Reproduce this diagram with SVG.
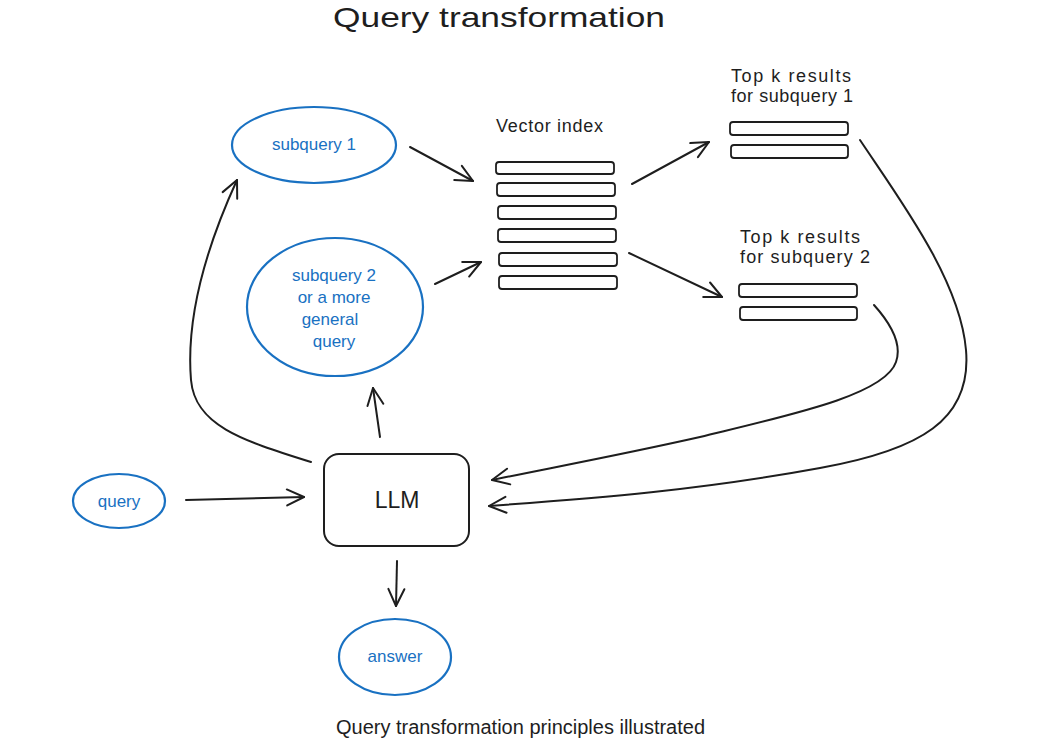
<svg xmlns="http://www.w3.org/2000/svg" width="1056" height="748" viewBox="0 0 1056 748">
<style>
.bg{fill:#ffffff}
.node-b{fill:none;stroke:#1971c2;stroke-width:2.2}
.node-k{fill:none;stroke:#1e1e1e;stroke-width:2}
.bar{fill:#ffffff;stroke:#1e1e1e;stroke-width:1.8}
.lbl-b{font-family:"Liberation Sans",Arial,sans-serif;font-size:17px;fill:#1971c2;text-anchor:middle}
.lbl-k{font-family:"Liberation Sans",Arial,sans-serif;font-size:18px;fill:#1e1e1e}
.title{font-family:"Liberation Sans",Arial,sans-serif;font-size:28px;fill:#1e1e1e}
.cap{font-family:"Liberation Sans",Arial,sans-serif;font-size:20px;fill:#1e1e1e}
.edge{fill:none;stroke:#1e1e1e;stroke-width:2;stroke-linecap:round;marker-end:url(#arr)}
</style>
<defs>
<marker id="arr" viewBox="-20 -10 24 20" refX="0" refY="0" markerWidth="24" markerHeight="20" markerUnits="userSpaceOnUse" orient="auto">
<path d="M-17,-8 L0,0 L-17,8" fill="none" stroke="#1e1e1e" stroke-width="2" stroke-linecap="round" stroke-linejoin="round"/>
</marker>
</defs>
<rect class="bg" x="0" y="0" width="1056" height="748"/>
<text class="title" x="333" y="27" textLength="332" lengthAdjust="spacingAndGlyphs">Query transformation</text>

<g id="connectors">
<path class="edge" d="M186,500 L304,497"/>
<path class="edge" d="M380,437 L373,388"/>
<path class="edge" d="M311,462 C240,440 195,425 191,380 C186,320 205,250 237,180"/>
<path class="edge" d="M410,147 L473,181"/>
<path class="edge" d="M435,284 L481,262"/>
<path class="edge" d="M632,184 L709,142"/>
<path class="edge" d="M629,253 L722,297"/>
<path class="edge" d="M397,561 L396,606"/>
<path class="edge" d="M874,305 C892,325 902,345 896,362 C885,395 790,415 700,437 C620,455 550,468 492,480"/>
<path class="edge" d="M860,140 C900,200 960,280 966,350 C972,420 920,450 820,468 C700,490 600,498 489,506"/>
</g>

<g id="subquery1">
<ellipse class="node-b" cx="314" cy="145" rx="82" ry="38"/>
<text class="lbl-b" x="314" y="150">subquery 1</text>
</g>

<g id="subquery2">
<ellipse class="node-b" cx="335" cy="307" rx="88" ry="69"/>
<text class="lbl-b" x="334" y="281">subquery 2</text>
<text class="lbl-b" x="334" y="303">or a more</text>
<text class="lbl-b" x="330" y="325">general</text>
<text class="lbl-b" x="334" y="347">query</text>
</g>

<g id="query">
<ellipse class="node-b" cx="119" cy="501" rx="46" ry="27"/>
<text class="lbl-b" x="119" y="507">query</text>
</g>

<g id="llm">
<rect class="node-k" x="324" y="454" width="145" height="92" rx="15"/>
<text x="397" y="508" style="font-family:'Liberation Sans',Arial,sans-serif;font-size:23px;fill:#1e1e1e;text-anchor:middle">LLM</text>
</g>

<g id="answer">
<ellipse class="node-b" cx="395" cy="657" rx="56" ry="38"/>
<text class="lbl-b" x="395" y="662">answer</text>
</g>

<g id="vector-index">
<text class="lbl-k" x="496" y="132" textLength="107" lengthAdjust="spacing">Vector index</text>
<rect class="bar" x="496" y="162" width="118" height="12" rx="3"/>
<rect class="bar" x="497" y="183" width="118" height="13" rx="3"/>
<rect class="bar" x="498" y="206" width="118" height="13" rx="3"/>
<rect class="bar" x="498" y="229" width="118" height="13" rx="3"/>
<rect class="bar" x="499" y="253" width="118" height="13" rx="3"/>
<rect class="bar" x="499" y="276" width="118" height="13" rx="3"/>
</g>

<g id="topk1">
<text class="lbl-k" x="731" y="82" textLength="120" lengthAdjust="spacing">Top k results</text>
<text class="lbl-k" x="731" y="102" textLength="122" lengthAdjust="spacing">for subquery 1</text>
<rect class="bar" x="730" y="122" width="118" height="13" rx="3"/>
<rect class="bar" x="731" y="145" width="117" height="13" rx="3"/>
</g>

<g id="topk2">
<text class="lbl-k" x="740" y="243" textLength="120" lengthAdjust="spacing">Top k results</text>
<text class="lbl-k" x="740" y="263" textLength="130" lengthAdjust="spacing">for subquery 2</text>
<rect class="bar" x="739" y="284" width="118" height="13" rx="3"/>
<rect class="bar" x="740" y="307" width="117" height="13" rx="3"/>
</g>

<text class="cap" x="336" y="734">Query transformation principles illustrated</text>
</svg>
